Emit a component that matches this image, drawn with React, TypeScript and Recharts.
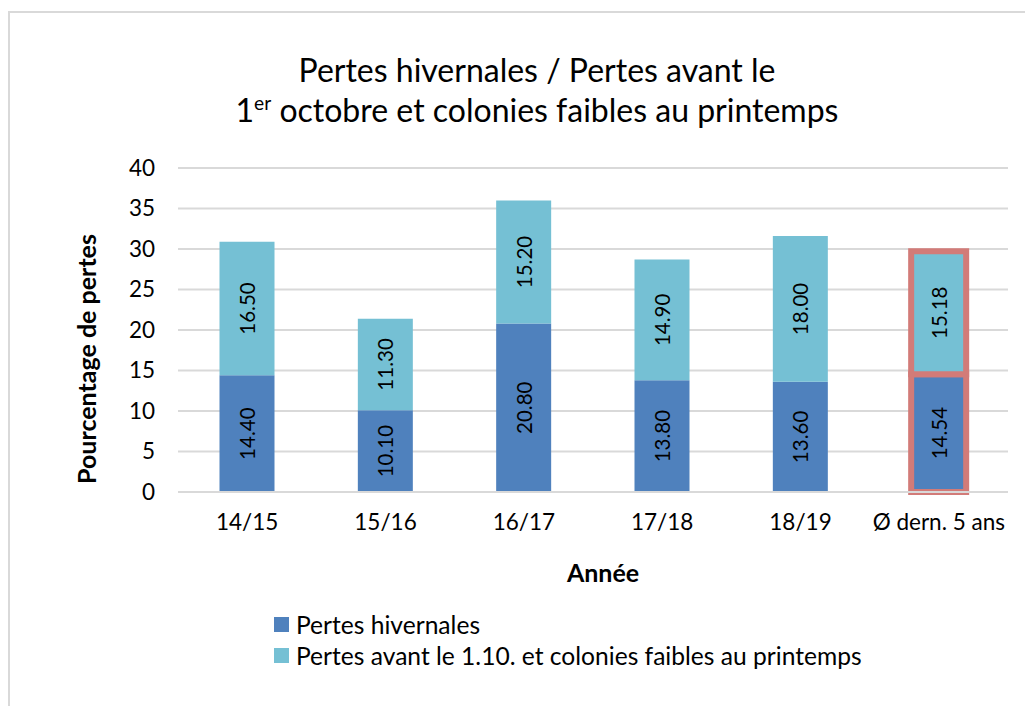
import { BarChart, Bar, XAxis, YAxis, CartesianGrid, Legend, LabelList, Cell } from "recharts";

const years = ["14/15", "15/16", "16/17", "17/18", "18/19", "Ø dern. 5 ans"];
const winterLosses = [14.4, 10.1, 20.8, 13.8, 13.6, 14.54];
const earlyLosses = [16.5, 11.3, 15.2, 14.9, 18.0, 15.18];
const yTicks = [0, 5, 10, 15, 20, 25, 30, 35, 40];
const seriesNames = ["Pertes hivernales", "Pertes avant le 1.10. et colonies faibles au printemps"];
const highlighted = "Ø dern. 5 ans";

const data = years.map((year, i) => ({ year, hiver: winterLosses[i], avant: earlyLosses[i] }));

const DARK = "#4F81BD";
const LIGHT = "#75C0D4";
const RED = "#D27B78";
const GRID = "#D9D9D9";
const FONT = "Lato, 'Noto Sans', sans-serif";

const renderValue = (props: any) => {
  const vb = props.viewBox ?? props;
  const cx = Number(vb.x) + Number(vb.width) / 2;
  const cy = Number(vb.y) + Number(vb.height) / 2;
  return (
    <text
      x={cx}
      y={cy}
      transform={`rotate(-90 ${cx} ${cy})`}
      textAnchor="middle"
      dominantBaseline="central"
      fontSize={20.5}
      fill="#000"
    >
      {Number(props.value).toFixed(2)}
    </text>
  );
};

const renderLegend = () => (
  <div style={{ fontSize: 24.6, color: "#000" }}>
    {seriesNames.map((name, i) => (
      <div key={name} style={{ display: "flex", alignItems: "center", height: 31, whiteSpace: "nowrap" }}>
        <span style={{ width: 15, height: 15, background: i === 0 ? DARK : LIGHT, marginRight: 7 }} />
        <span>{name}</span>
      </div>
    ))}
  </div>
);

export default function App() {
  return (
    <div
      style={{
        position: "relative",
        top: 3,
        width: 1023,
        height: 696,
        borderLeft: `2px solid ${GRID}`,
        borderTop: `2px solid ${GRID}`,
        overflow: "hidden",
        fontFamily: FONT,
        background: "#fff",
      }}
    >
      <div
        style={{
          position: "absolute",
          left: 527,
          top: 37,
          transform: "translateX(-50%)",
          whiteSpace: "nowrap",
          textAlign: "center",
          fontSize: 32,
          lineHeight: "40px",
          color: "#000",
        }}
      >
        Pertes hivernales / Pertes avant le
        <br />
        1<sup style={{ fontSize: "0.6em", lineHeight: 0 }}>er</sup> octobre et colonies faibles au printemps
      </div>
      <BarChart
        width={1020}
        height={690}
        data={data}
        margin={{ top: 155, right: 22, left: 108, bottom: 181 }}
        barCategoryGap="30%"
      >
        <CartesianGrid vertical={false} stroke={GRID} strokeWidth={2} />
        <XAxis
          dataKey="year"
          axisLine={{ stroke: GRID, strokeWidth: 2 }}
          tickLine={false}
          tickSize={0}
          tickMargin={22}
          tick={{ fill: "#000", fontSize: 22.5 }}
          label={{
            content: (p: any) => (
              <text
                x={Number(p.viewBox.x) + Number(p.viewBox.width) / 2 + 10}
                y={559}
                textAnchor="middle"
                dominantBaseline="central"
                fontSize={25}
                fontWeight="bold"
                fill="#000"
              >
                Année
              </text>
            ),
          }}
        />
        <YAxis
          domain={[0, 40]}
          ticks={yTicks}
          axisLine={false}
          tickLine={false}
          tickSize={0}
          tickMargin={23}
          tick={{ fill: "#000", fontSize: 22.5 }}
          label={{
            content: () => (
              <text
                x={76}
                y={346}
                transform="rotate(-90 76 346)"
                textAnchor="middle"
                dominantBaseline="central"
                fontSize={25}
                fontWeight="bold"
                fill="#000"
              >
                Pourcentage de pertes
              </text>
            ),
          }}
        />
        <Legend
          layout="vertical"
          align="center"
          verticalAlign="middle"
          wrapperStyle={{ left: 264, top: 596, width: 740 }}
          content={renderLegend}
        />
        <Bar dataKey="hiver" stackId="a" fill={DARK} name={seriesNames[0]} isAnimationActive={false}>
          {data.map((d) => (
            <Cell
              key={d.year}
              stroke={d.year === highlighted ? RED : "none"}
              strokeWidth={d.year === highlighted ? 6 : 0}
            />
          ))}
          <LabelList dataKey="hiver" content={renderValue} />
        </Bar>
        <Bar dataKey="avant" stackId="a" fill={LIGHT} name={seriesNames[1]} isAnimationActive={false}>
          {data.map((d) => (
            <Cell
              key={d.year}
              stroke={d.year === highlighted ? RED : "none"}
              strokeWidth={d.year === highlighted ? 6 : 0}
            />
          ))}
          <LabelList dataKey="avant" content={renderValue} />
        </Bar>
      </BarChart>
    </div>
  );
}
